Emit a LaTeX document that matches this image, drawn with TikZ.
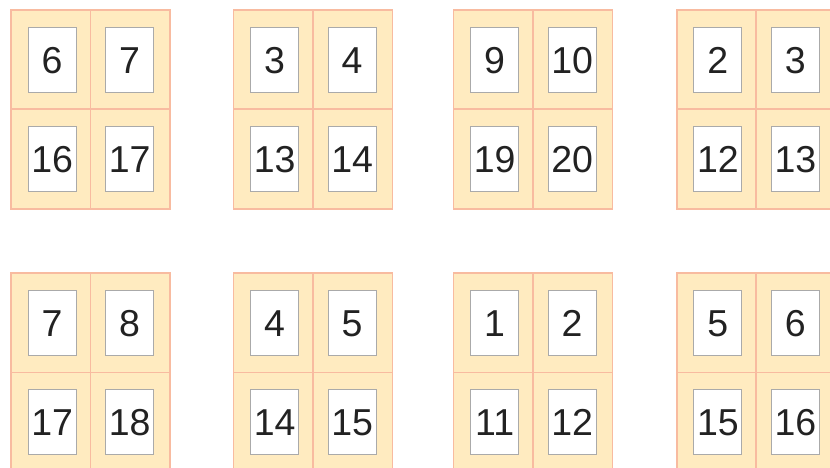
\documentclass[tikz,border=0pt]{standalone}
\usepackage{fontspec}
\setmainfont{Liberation Sans}
\definecolor{cellfill}{HTML}{FFEBC0}
\definecolor{cellline}{HTML}{F8BBA0}
\definecolor{boxline}{HTML}{AAAAAA}
\definecolor{digit}{HTML}{222222}
\tikzset{
  cellbox/.style={draw=cellline, fill=cellfill, line width=1.8pt, minimum width=79.5pt, minimum height=99.5pt, inner sep=0pt, anchor=north west},
  pagebox/.style={draw=boxline, fill=white, line width=1.1pt, minimum width=48pt, minimum height=65pt, inner sep=0pt},
  numtext/.style={font=\fontsize{37.5}{40}\selectfont, text=digit, inner sep=0pt, text height=26.8pt, text depth=0pt}
}
\begin{document}
\begin{tikzpicture}[x=1pt,y=-1pt]
\useasboundingbox (0,0) rectangle (830,468);
\fill[white] (0,0) rectangle (830,468);
\foreach \gx/\gy/\a/\b/\c/\d [count=\g] in {
  10/9/6/7/16/17, 232.5/9/3/4/13/14, 452.5/9/9/10/19/20, 675.7/9/2/3/12/13,
  10/272/7/8/17/18, 232.5/272/4/5/14/15, 452.5/272/1/2/11/12, 675.7/272/5/6/15/16}{
  \foreach \cx/\cy/\n/\sh [count=\k] in {0/0/\a/1.5, 79.5/0/\b/-0.5, 0/99.5/\c/1.5, 79.5/99.5/\d/-0.5}{
    \node[cellbox] (c\g-\k) at (\gx+\cx,\gy+\cy) {};
    \node[pagebox] (p\g-\k) at ([xshift=\sh pt]c\g-\k.center) {};
    \node[numtext] (t\g-\k) at (p\g-\k.center) {\n};
  }
}
\end{tikzpicture}
\end{document}
